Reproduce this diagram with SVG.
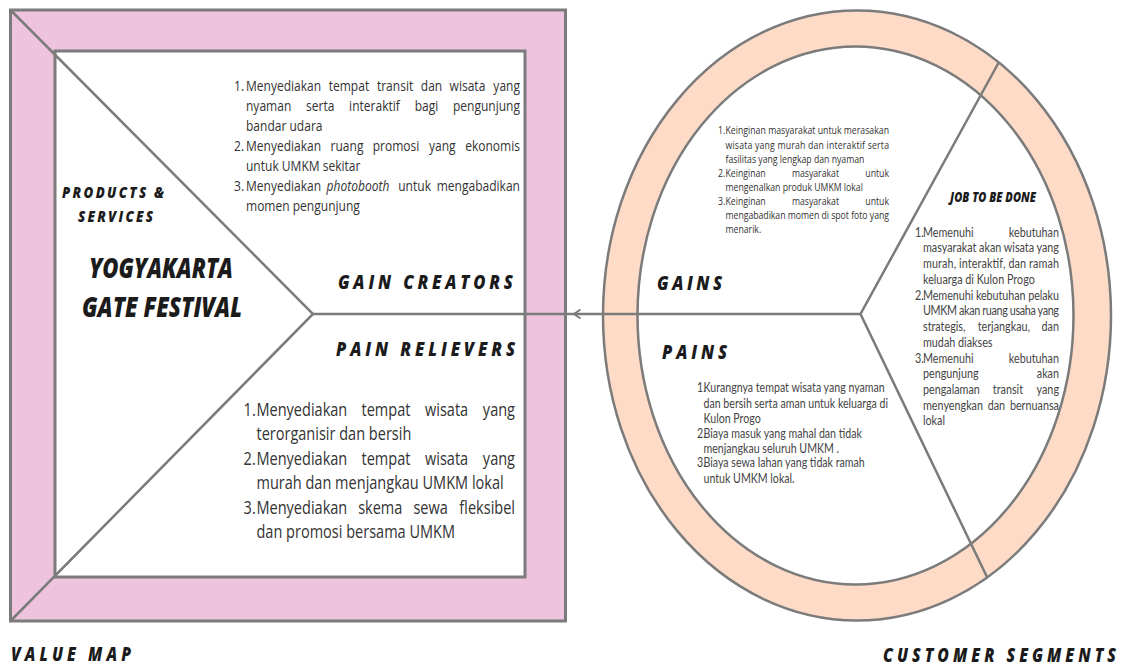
<svg xmlns="http://www.w3.org/2000/svg" width="1123" height="666" viewBox="0 0 1123 666">
<style>
.ln{fill:none;stroke:#7b7b7b;stroke-width:2.5}
.h{font-family:"Open Sans","Liberation Sans",sans-serif;font-weight:800;font-style:italic;fill:#1b1b1b}
.b{font-family:"Open Sans","Liberation Sans",sans-serif;fill:#333}
.q{font-family:Lato,"Liberation Sans",sans-serif;fill:#454545}
.e{text-anchor:end}
.gc{font-size:14.5px}
.pr{font-size:17.5px}
.gn{font-size:10.5px}
.pn{font-size:12.8px}
.jb{font-size:13px}
</style>
<defs>
<marker id="chev" markerUnits="userSpaceOnUse" markerWidth="14" markerHeight="14" viewBox="-10 -7 14 14" refX="0" refY="0" orient="auto" overflow="visible">
<path d="M-6.5 -4.5 L0 0 L-6.5 4.5" fill="none" stroke="#7b7b7b" stroke-width="2"/>
</marker>
</defs>

<g id="value-map">
<rect x="10.5" y="10" width="555" height="611" fill="#EEC3DE" stroke="#7b7b7b" stroke-width="3"/>
<rect x="55" y="51" width="470" height="526" fill="#fff" stroke="#7b7b7b" stroke-width="3"/>
<path class="ln" d="M10.5 10 L313 314 L10.5 621"/>
</g>

<g id="customer-segment">
<ellipse cx="857" cy="315.5" rx="254" ry="305" fill="#FDDBC7" stroke="#7b7b7b" stroke-width="2.5"/>
<ellipse cx="855.5" cy="315.5" rx="218" ry="269" fill="#fff" stroke="#7b7b7b" stroke-width="2.5"/>
<path class="ln" d="M999 62 L860.5 314 L987 577"/>
</g>

<g id="connectors">
<path class="ln" d="M860.5 314 L574 314 L313 314" marker-mid="url(#chev)"/>
</g>

<g id="products-services" transform="scale(0.83 1)">
<text class="h" x="74.7" y="198" font-size="16" textLength="123" lengthAdjust="spacing">PRODUCTS &amp;</text>
<text class="h" x="94" y="222" font-size="16" textLength="90.4" lengthAdjust="spacing">SERVICES</text>
<text class="h" x="107.2" y="278" font-size="28" textLength="173.5" lengthAdjust="spacingAndGlyphs">YOGYAKARTA</text>
<text class="h" x="98.8" y="317" font-size="28" textLength="192.8" lengthAdjust="spacingAndGlyphs">GATE FESTIVAL</text>
</g>

<g id="gain-creators" transform="scale(0.83 1)">
<text class="h" x="407.2" y="289" font-size="20" textLength="210.8" lengthAdjust="spacing">GAIN CREATORS</text>
<text class="b gc" y="91"><tspan x="282">1.</tspan><tspan x="296.4">Menyediakan</tspan><tspan x="396">tempat</tspan><tspan x="454.1">transit</tspan><tspan x="507">dan</tspan><tspan x="541.7">wisata</tspan></text>
<text class="b gc e" x="626.5" y="91">yang</text>
<text class="b gc" y="111"><tspan x="296.4">nyaman</tspan><tspan x="368.7">serta</tspan><tspan x="420.6">interaktif</tspan><tspan x="499.6">bagi</tspan></text>
<text class="b gc e" x="626.5" y="111">pengunjung</text>
<text class="b gc" x="296.4" y="131">bandar udara</text>
<text class="b gc" y="151"><tspan x="282">2.</tspan><tspan x="296.4">Menyediakan</tspan><tspan x="398.3">ruang</tspan><tspan x="449">promosi</tspan><tspan x="516.9">yang</tspan></text>
<text class="b gc e" x="626.5" y="151">ekonomis</text>
<text class="b gc" x="296.4" y="171">untuk UMKM sekitar</text>
<text class="b gc" y="191"><tspan x="282">3.</tspan><tspan x="296.4">Menyediakan</tspan><tspan x="393.5" font-style="italic">photobooth</tspan><tspan x="479.8">untuk</tspan></text>
<text class="b gc e" x="626.5" y="191">mengabadikan</text>
<text class="b gc" x="296.4" y="211">momen pengunjung</text>
</g>

<g id="pain-relievers" transform="scale(0.83 1)">
<text class="h" x="404.8" y="356" font-size="20" textLength="215.7" lengthAdjust="spacing">PAIN RELIEVERS</text>
<text class="b pr" y="416"><tspan x="293.5">1.</tspan><tspan x="309">Menyediakan</tspan><tspan x="435.6">tempat</tspan><tspan x="512.1">wisata</tspan></text>
<text class="b pr e" x="620.5" y="416">yang</text>
<text class="b pr" x="309" y="440">terorganisir dan bersih</text>
<text class="b pr" y="465"><tspan x="293.5">2.</tspan><tspan x="309">Menyediakan</tspan><tspan x="435.6">tempat</tspan><tspan x="512.1">wisata</tspan></text>
<text class="b pr e" x="620.5" y="465">yang</text>
<text class="b pr" x="309" y="489">murah dan menjangkau UMKM lokal</text>
<text class="b pr" y="514"><tspan x="293.5">3.</tspan><tspan x="309">Menyediakan</tspan><tspan x="431.5">skema</tspan><tspan x="498.1">sewa</tspan></text>
<text class="b pr e" x="620.5" y="514">fleksibel</text>
<text class="b pr" x="309" y="538">dan promosi bersama UMKM</text>
</g>

<g id="gains" transform="scale(0.83 1)">
<text class="h" x="791.6" y="290" font-size="20" textLength="78.3" lengthAdjust="spacing">GAINS</text>
<text class="b gn" x="865.1" y="134.5">1.</text>
<text class="b gn" x="874.1" y="134.5" textLength="197" lengthAdjust="spacing">Keinginan masyarakat untuk merasakan</text>
<text class="b gn" x="874.1" y="148.6" textLength="197" lengthAdjust="spacing">wisata yang murah dan interaktif serta</text>
<text class="b gn" x="874.1" y="162.7">fasilitas yang lengkap dan nyaman</text>
<text class="b gn" y="176.8"><tspan x="865.1">2.</tspan><tspan x="874.1">Keinginan</tspan><tspan x="954.1">masyarakat</tspan></text>
<text class="b gn e" x="1071.1" y="176.8">untuk</text>
<text class="b gn" x="874.1" y="190.9">mengenalkan produk UMKM lokal</text>
<text class="b gn" y="205"><tspan x="865.1">3.</tspan><tspan x="874.1">Keinginan</tspan><tspan x="954.1">masyarakat</tspan></text>
<text class="b gn e" x="1071.1" y="205">untuk</text>
<text class="b gn" x="874.1" y="219.1" textLength="197" lengthAdjust="spacing">mengabadikan momen di spot foto yang</text>
<text class="b gn" x="874.1" y="233.2">menarik.</text>
</g>

<g id="pains" transform="scale(0.83 1)">
<text class="h" x="797.6" y="359" font-size="20" textLength="78.3" lengthAdjust="spacing">PAINS</text>
<text class="q pn" y="392"><tspan x="839.8">1.</tspan><tspan x="847.6">Kurangnya tempat wisata yang nyaman</tspan></text>
<text class="q pn" x="847.6" y="407.7">dan bersih serta aman untuk keluarga di</text>
<text class="q pn" x="847.6" y="423.2">Kulon Progo</text>
<text class="q pn" y="438"><tspan x="839.8">2.</tspan><tspan x="847.6">Biaya masuk yang mahal dan tidak</tspan></text>
<text class="q pn" x="847.6" y="453">menjangkau seluruh UMKM .</text>
<text class="q pn" y="467.5"><tspan x="839.8">3.</tspan><tspan x="847.6">Biaya sewa lahan yang tidak ramah</tspan></text>
<text class="q pn" x="847.6" y="482.7">untuk UMKM lokal.</text>
</g>

<g id="job-to-be-done" transform="scale(0.83 1)">
<text class="h" x="1144.6" y="202" font-size="14" textLength="103.6" lengthAdjust="spacingAndGlyphs">JOB TO BE DONE</text>
<text class="q jb" y="236.8"><tspan x="1102.4">1.</tspan><tspan x="1112">Memenuhi</tspan></text>
<text class="q jb e" x="1275.9" y="236.8">kebutuhan</text>
<text class="q jb" x="1112" y="252.5" textLength="163.9" lengthAdjust="spacing">masyarakat akan wisata yang</text>
<text class="q jb" x="1112" y="268.2" textLength="163.9" lengthAdjust="spacing">murah, interaktif, dan ramah</text>
<text class="q jb" x="1112" y="284">keluarga di Kulon Progo</text>
<text class="q jb" x="1102.4" y="299.7">2.</text>
<text class="q jb" x="1112" y="299.7" textLength="163.9" lengthAdjust="spacing">Memenuhi kebutuhan pelaku</text>
<text class="q jb" x="1112" y="315.4" textLength="163.9" lengthAdjust="spacing">UMKM akan ruang usaha yang</text>
<text class="q jb" y="331.1"><tspan x="1112">strategis,</tspan><tspan x="1177.9">terjangkau,</tspan></text>
<text class="q jb e" x="1275.9" y="331.1">dan</text>
<text class="q jb" x="1112" y="346.9">mudah diakses</text>
<text class="q jb" y="362.6"><tspan x="1102.4">3.</tspan><tspan x="1112">Memenuhi</tspan></text>
<text class="q jb e" x="1275.9" y="362.6">kebutuhan</text>
<text class="q jb" x="1112" y="378.3">pengunjung</text>
<text class="q jb e" x="1275.9" y="378.3">akan</text>
<text class="q jb" y="394"><tspan x="1112">pengalaman</tspan><tspan x="1196.2">transit</tspan></text>
<text class="q jb e" x="1275.9" y="394">yang</text>
<text class="q jb" y="409.7"><tspan x="1112">menyengkan</tspan><tspan x="1190">dan</tspan></text>
<text class="q jb e" x="1275.9" y="409.7">bernuansa</text>
<text class="q jb" x="1112" y="425.4">lokal</text>
</g>

<g id="section-labels" transform="scale(0.83 1)">
<text class="h" x="13.3" y="661" font-size="19" textLength="144.6" lengthAdjust="spacing">VALUE MAP</text>
<text class="h" x="1063.9" y="662" font-size="19" textLength="280.7" lengthAdjust="spacing">CUSTOMER SEGMENTS</text>
</g>
</svg>
